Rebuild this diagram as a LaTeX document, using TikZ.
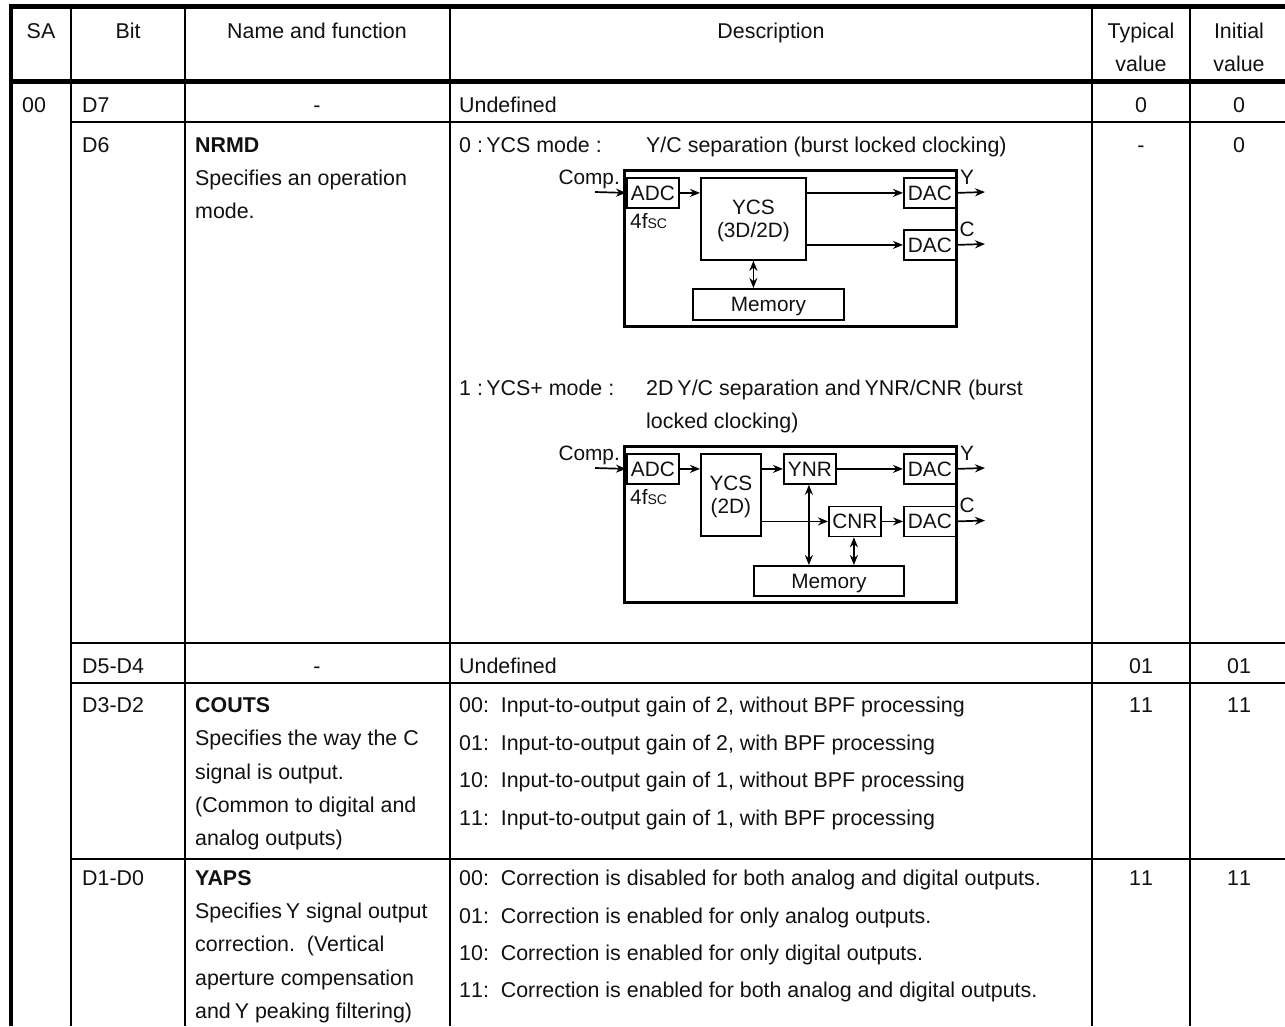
\documentclass[tikz,border=0pt]{standalone}
\usepackage{fontspec}
\setmainfont{Liberation Sans}
\usetikzlibrary{arrows.meta,calc}
\definecolor{ink}{HTML}{111111}
\newcommand{\fsc}{f{\fontsize{14}{18}\selectfont SC}}
\newcommand{\dn}[1]{\raisebox{-1.5pt}{#1}}
\newcommand{\dnn}[1]{\raisebox{-2.2pt}[\height][\depth]{\raisebox{-1.5pt}{#1}}}
\newcommand{\oo}{1\kern0pt 1}
\tikzset{
  every node/.style={font=\fontsize{21.4}{24}\selectfont,text=ink,inner sep=0pt},
  tl/.style={anchor=base west},
  tc/.style={anchor=base},
  lab/.style={font=\fontsize{20.8}{24}\selectfont},
  thin rule/.style={line width=2pt,black},
  thick rule/.style={line width=4.4pt,black},
  chip/.style={draw=black,line width=1.8pt,minimum height=30pt,minimum width=52pt,anchor=north west,align=center,font=\fontsize{20.8}{24}\selectfont},
  bigbox/.style={draw=black,line width=3pt},
  sig/.style={draw=black,line width=1.7pt,-{Stealth[length=10pt,width=8pt]}},
  sigb/.style={draw=black,line width=1.7pt,{Stealth[length=10pt,width=8pt]}-{Stealth[length=10pt,width=8pt]}},
}
\begin{document}
\begin{tikzpicture}[x=1pt,y=-1pt]
\useasboundingbox (0,0) rectangle (1285,1026);
% rules
\draw[thick rule] (9,6.5) -- (1285,6.5);
\draw[thick rule] (9,81.5) -- (1285,81.5);
\draw[thick rule] (11,4) -- (11,1026);
\foreach \x in {71,184.5,450,1092,1190} \draw[thin rule] (\x,6) -- (\x,1026);
\foreach \y in {121.5,642.5,683,858.5} \draw[thin rule] (71,\y) -- (1285,\y);
% header
\node[tc] (hsa) at (41,38) {SA};
\node[tc] (hbit) at (128,38) {Bit};
\node[tc] (hname) at (317,38) {Name and function};
\node[tc] (hdesc) at (771,38) {Description};
\node[tc] (htyp) at (1141,38) {Typical};
\node[tc] (htypb) at (1141,71) {value};
\node[tc] (hini) at (1239,38) {Initial};
\node[tc] (hinib) at (1239,71) {value};
% D7
\node[tl] (sa) at (22,112) {00};
\node[tl] (d7) at (82,112) {D7};
\node[tc] (d7n) at (317,112) {-};
\node[tl] (d7d) at (459,112) {Undefined};
\node[tc] (d7t) at (1141,112) {0};
\node[tc] (d7i) at (1239,112) {0};
% D6
\node[tl] (d6) at (82,152) {D6};
\node[tl] (d6n) at (195,152) {\textbf{NRMD}};
\node[tl] (d6na) at (195,185) {Specifies an operation};
\node[tl] (d6nb) at (195,218) {mode.};
\node[tc] (d6t) at (1141,152) {-};
\node[tc] (d6i) at (1239,152) {0};
\node[tl] (m0) at (459,152) {0 :\kern-2.5pt\ YCS mode :};
\node[tl] (m0d) at (646,152) {Y/C separation (burst locked clocking)};
\node[tl] (m1) at (459,395) {1 :\kern-2.5pt\ YCS+ mode :};
\node[tl] (m1d) at (646,395) {2D\kern-2pt\ Y/C separation and\kern-2pt\ YNR/CNR (burst};
\node[tl] (m1e) at (646,428) {locked clocking)};
% diagram 1
\draw[bigbox] (624,170) rectangle (956,326);
\node[chip] (adca) at (626,177) {\dn{ADC}};
\node[chip,minimum width=105pt,minimum height=82pt] (ycsa) at (700,177) {\dnn{YCS}\\[-1pt]\dnn{(3D/2D)}};
\node[chip] (daca) at (903,177) {\dn{DAC}};
\node[chip] (dacb) at (903,229) {\dn{DAC}};
\node[chip,minimum width=151pt,minimum height=31pt] (mema) at (692,288) {\dnn{Memory}};
\node[anchor=base east,lab] (compa) at (620,184) {Comp.};
\node[tc,lab] (ya) at (967,184) {Y};
\node[tc,lab] (ca) at (967,236) {C};
\node[tl,lab] (fa) at (630,228) {4\fsc};
\coordinate (ina) at (595,192);
\coordinate (outy) at (985,192);
\coordinate (outc) at (985,244);
\draw[sig] (ina) -- (adca.west);
\draw[sig] (adca.east) -- (adca.east -| ycsa.west);
\draw[sig] (ycsa.east |- daca.west) -- (daca.west);
\draw[sig] (ycsa.east |- dacb.west) -- (dacb.west);
\draw[sig] (daca.east) -- (outy);
\draw[sig] (dacb.east) -- (outc);
\draw[sigb] (ycsa.south) -- (ycsa.south |- mema.north);
% diagram 2
\draw[bigbox] (624,446) rectangle (956,602);
\node[chip] (adcc) at (626,453) {\dn{ADC}};
\node[chip,minimum width=60pt,minimum height=82pt] (ycsc) at (700,453) {\dnn{YCS}\\[-1pt]\dnn{(2D)}};
\node[chip] (ynr) at (783,453) {\dn{YNR}};
\node[chip] (dacc) at (903,453) {\dn{DAC}};
\node[chip] (cnr) at (828,505.5) {\dn{CNR}};
\node[chip] (dacd) at (903,505.5) {\dn{DAC}};
\node[chip,minimum width=150pt,minimum height=30pt] (memc) at (753,565) {\dnn{Memory}};
\node[anchor=base east,lab] (compc) at (620,460) {Comp.};
\node[tc,lab] (yc) at (967,460) {Y};
\node[tc,lab] (cc) at (967,512) {C};
\node[tl,lab] (fc) at (630,504) {4\fsc};
\coordinate (inc) at (595,468);
\coordinate (outyc) at (985,468);
\coordinate (outcc) at (985,520.5);
\draw[sig] (inc) -- (adcc.west);
\draw[sig] (adcc.east) -- (adcc.east -| ycsc.west);
\draw[sig] (ycsc.east |- ynr.west) -- (ynr.west);
\draw[sig] (ynr.east) -- (dacc.west);
\draw[sig] (ycsc.east |- cnr.west) -- (cnr.west);
\draw[sig] (cnr.east) -- (dacd.west);
\draw[sig] (dacc.east) -- (outyc);
\draw[sig] (dacd.east) -- (outcc);
\draw[sigb] ($(ynr.south)+(-1,0)$) -- ($(ynr.south |- memc.north)+(-1,0)$);
\draw[sigb] ($(cnr.south)+(-1,0)$) -- ($(cnr.south |- memc.north)+(-1,0)$);
% D5-D4
\node[tl] (d5) at (82,673) {D5-D4};
\node[tc] (d5n) at (317,673) {-};
\node[tl] (d5d) at (459,673) {Undefined};
\node[tc] (d5t) at (1141,673) {01};
\node[tc] (d5i) at (1239,673) {01};
% D3-D2
\node[tl] (d3) at (82,712) {D3-D2};
\node[tl] (d3n) at (195,712) {\textbf{COUTS}};
\node[tl] (d3a) at (195,745) {Specifies the way the C};
\node[tl] (d3b) at (195,779) {signal is output.};
\node[tl] (d3c) at (195,812) {(Common to digital and};
\node[tl] (d3e) at (195,845) {analog outputs)};
\node[tc] (d3t) at (1141,712) {\oo};
\node[tc] (d3i) at (1239,712) {\oo};
\node[tl] (c0) at (459,712) {00:\ \ Input-to-output gain of 2, without BPF processing};
\node[tl] (c1) at (459,750) {01:\ \ Input-to-output gain of 2, with BPF processing};
\node[tl] (c2) at (459,787) {10:\ \ Input-to-output gain of 1, without BPF processing};
\node[tl] (c3) at (459,825) {\oo:\ \ Input-to-output gain of 1, with BPF processing};
% D1-D0
\node[tl] (d1) at (82,885) {D1-D0};
\node[tl] (d1n) at (195,885) {\textbf{YAPS}};
\node[tl] (d1a) at (195,918) {Specifies\kern-2pt\ Y signal output};
\node[tl] (d1b) at (195,951) {correction.\ \ (Vertical};
\node[tl] (d1c) at (195,985) {aperture compensation};
\node[tl] (d1e) at (195,1018) {and\kern-2pt\ Y peaking filtering)};
\node[tc] (d1t) at (1141,885) {\oo};
\node[tc] (d1i) at (1239,885) {\oo};
\node[tl] (y0) at (459,885) {00:\ \ Correction is disabled for both analog and digital outputs.};
\node[tl] (y1) at (459,923) {01:\ \ Correction is enabled for only analog outputs.};
\node[tl] (y2) at (459,960) {10:\ \ Correction is enabled for only digital outputs.};
\node[tl] (y3) at (459,997) {\oo:\ \ Correction is enabled for both analog and digital outputs.};
\end{tikzpicture}
\end{document}
